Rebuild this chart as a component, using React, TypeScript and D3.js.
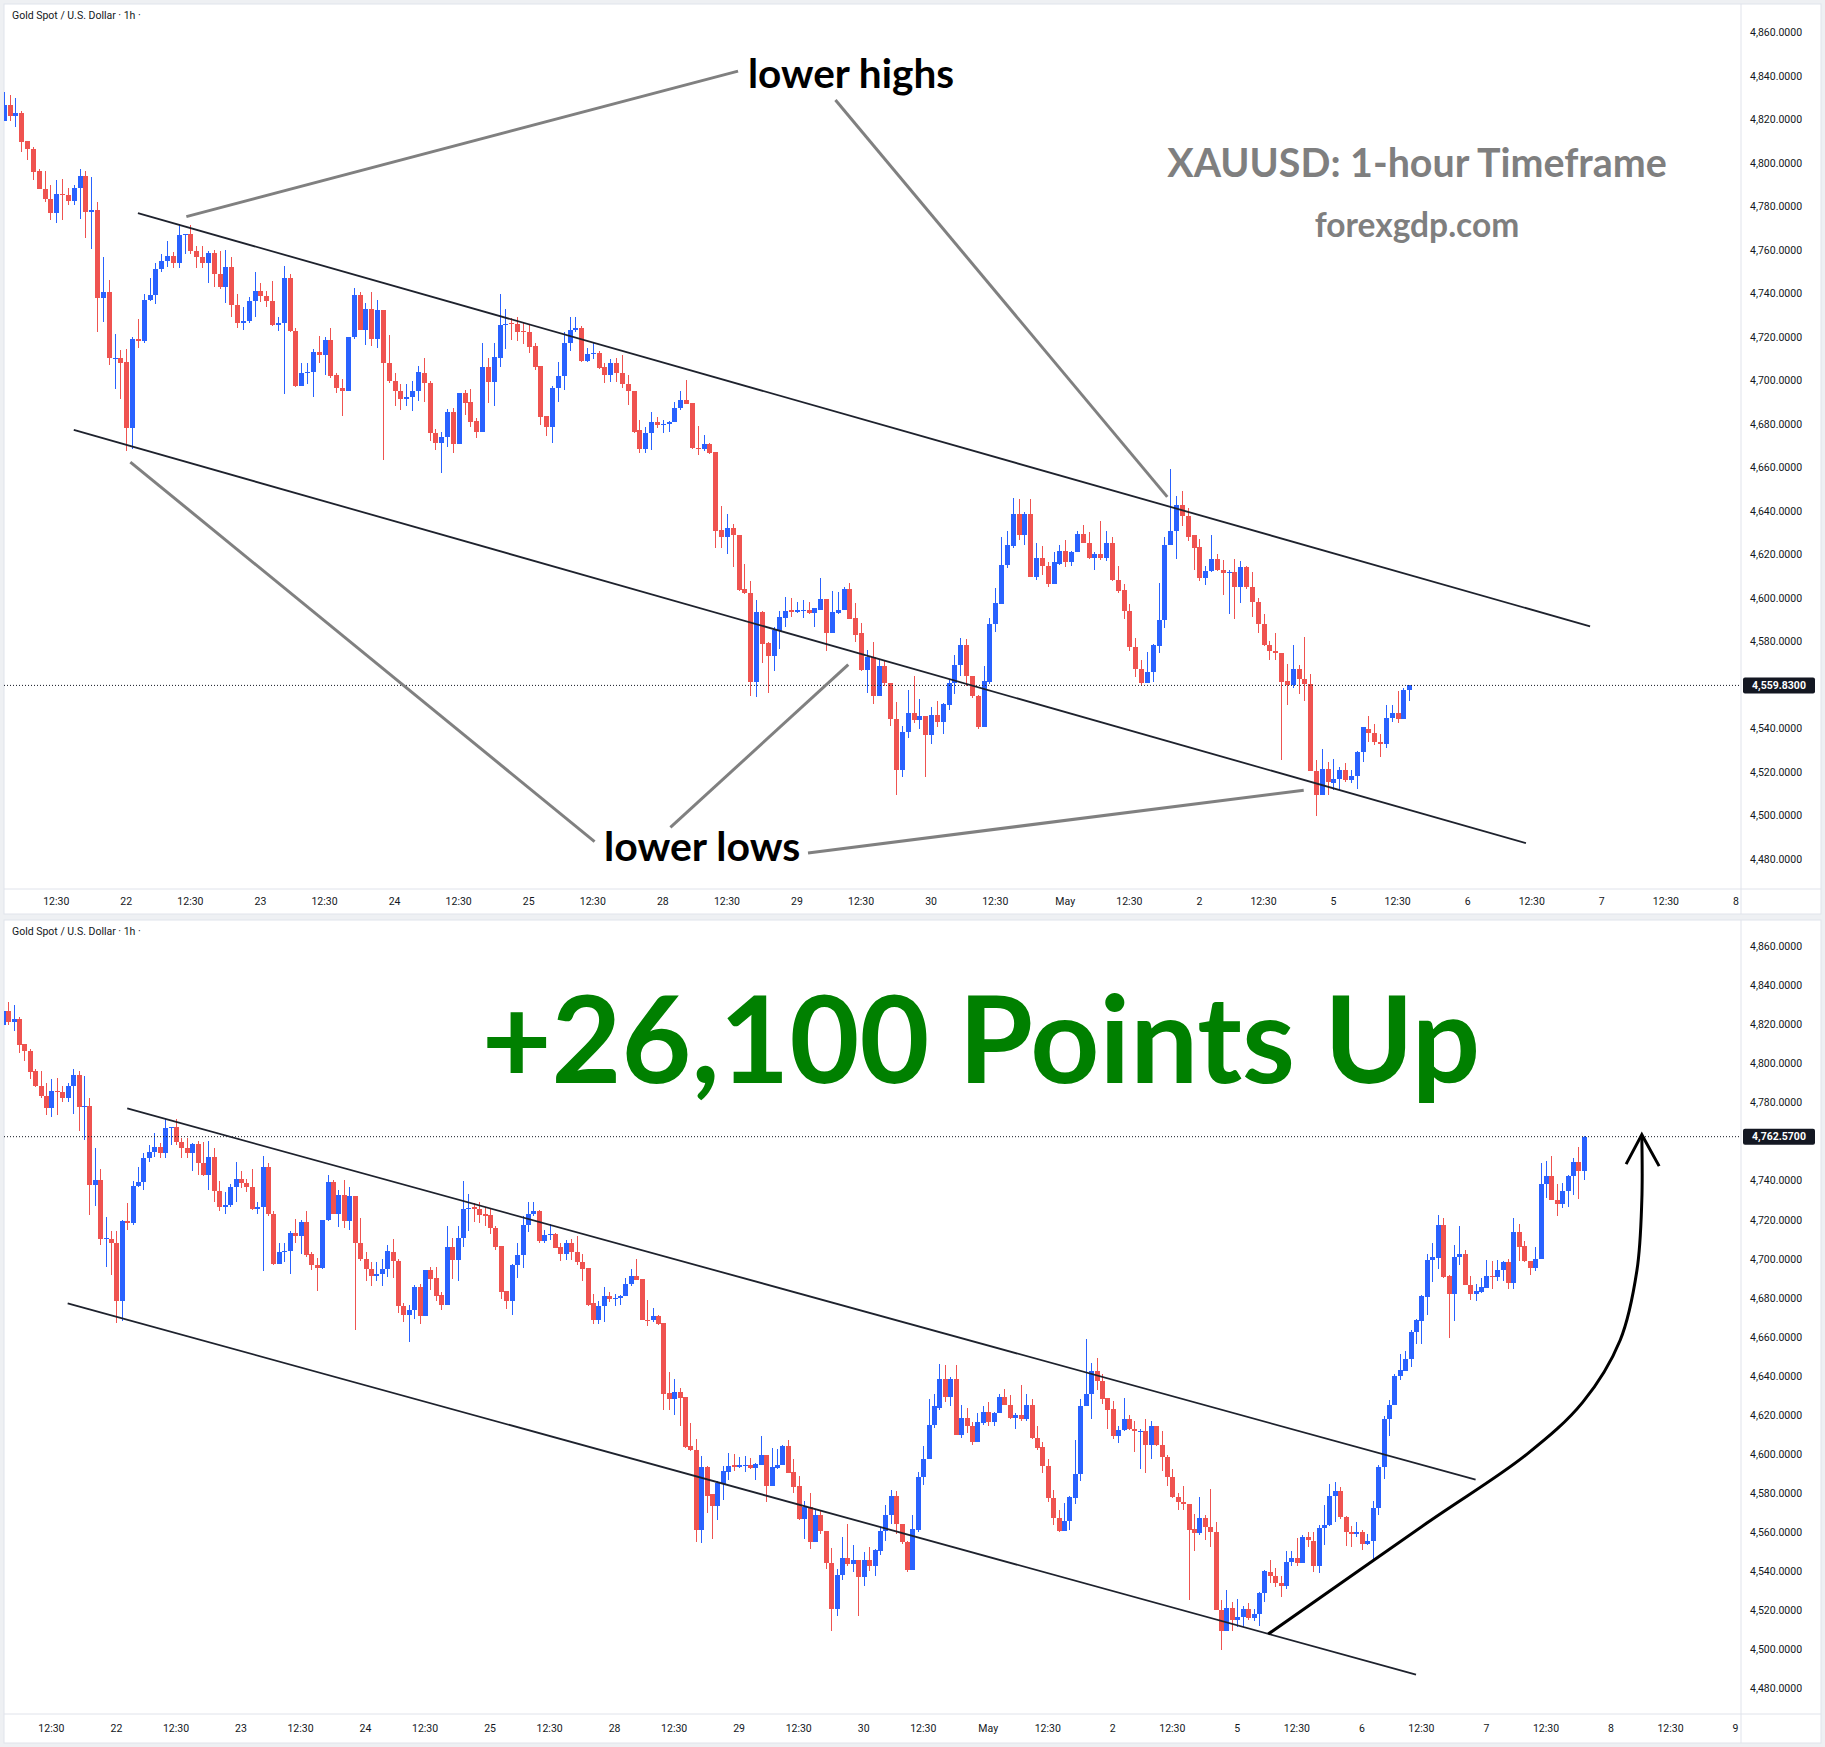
import * as d3 from 'd3';
import React from 'react';

// one candle per hour: [open, high, low, close]
type Bar = [number, number, number, number];

const apr21: Bar[] = [
  [4819.5, 4832.8, 4819.5, 4826.9], [4826.9, 4831.3, 4819.5, 4821.5], [4821.5, 4830.0, 4816.5, 4823.0],
  [4823.0, 4823.9, 4805.2, 4809.6], [4810.0, 4810.0, 4801.3, 4806.3], [4806.3, 4807.4, 4792.0, 4795.9],
  [4796.3, 4797.4, 4787.9, 4788.3], [4788.3, 4796.3, 4782.2, 4783.3], [4783.3, 4790.0, 4773.8, 4777.0],
  [4777.0, 4792.2, 4772.4, 4785.7], [4785.7, 4792.6, 4773.8, 4785.3], [4785.3, 4788.7, 4780.5, 4782.6],
  [4782.6, 4790.0, 4780.5, 4788.7], [4788.7, 4797.4, 4774.2, 4794.1], [4794.1, 4796.3, 4765.5, 4777.7],
  [4777.7, 4793.7, 4760.7, 4778.3], [4778.5, 4782.2, 4722.5, 4738.0], [4738.0, 4756.8, 4727.1, 4740.5],
  [4740.5, 4746.2, 4707.3, 4710.2], [4710.2, 4721.4, 4696.1, 4710.6], [4710.2, 4714.1, 4691.7, 4708.0],
];
const apr22: Bar[] = [
  [4708.4, 4714.5, 4667.4, 4678.3], [4678.3, 4719.9, 4668.3, 4719.3], [4719.3, 4728.4, 4715.0, 4718.4],
  [4718.4, 4739.9, 4717.5, 4737.1], [4737.1, 4747.1, 4736.6, 4739.2], [4739.2, 4754.0, 4735.3, 4751.4],
  [4751.4, 4758.3, 4749.7, 4754.9], [4754.9, 4764.4, 4752.3, 4757.3], [4757.3, 4759.2, 4751.8, 4754.0],
  [4754.0, 4771.8, 4751.8, 4767.0], [4767.0, 4767.5, 4758.3, 4767.5], [4767.5, 4771.4, 4758.3, 4759.6],
  [4759.6, 4761.8, 4751.8, 4756.6], [4756.6, 4761.8, 4751.8, 4754.0], [4754.0, 4759.4, 4744.9, 4758.6],
  [4758.6, 4760.1, 4743.2, 4749.2], [4749.2, 4759.6, 4742.3, 4743.2], [4743.2, 4760.1, 4735.5, 4752.3],
  [4752.3, 4756.6, 4729.1, 4734.9], [4734.9, 4739.7, 4724.3, 4726.4], [4726.4, 4734.0, 4723.2, 4727.5],
  [4727.5, 4738.4, 4726.4, 4736.6], [4736.6, 4749.7, 4729.3, 4741.0],
];
const apr23: Bar[] = [
  [4741.0, 4744.9, 4736.2, 4738.8], [4739.0, 4741.0, 4734.0, 4736.6], [4736.6, 4745.8, 4724.9, 4725.4],
  [4725.4, 4729.3, 4722.8, 4726.6], [4726.6, 4752.7, 4693.7, 4747.1], [4747.1, 4749.2, 4722.1, 4722.8],
  [4722.8, 4724.3, 4697.0, 4697.6], [4697.6, 4708.0, 4697.6, 4703.7], [4703.7, 4708.0, 4698.2, 4704.1],
  [4704.1, 4714.5, 4692.4, 4713.2], [4713.2, 4720.4, 4708.0, 4711.9], [4711.9, 4719.9, 4702.6, 4718.8],
  [4718.8, 4724.3, 4701.0, 4702.1], [4702.6, 4703.7, 4694.5, 4696.7], [4696.7, 4700.6, 4683.7, 4695.4],
  [4695.4, 4719.9, 4695.0, 4719.9], [4719.9, 4742.7, 4719.3, 4739.2], [4739.2, 4740.5, 4723.2, 4723.2],
  [4723.2, 4735.5, 4716.2, 4732.7], [4732.7, 4740.5, 4716.0, 4719.3], [4719.3, 4736.9, 4715.0, 4732.3],
  [4732.3, 4732.3, 4663.5, 4708.0], [4708.0, 4721.0, 4698.7, 4699.8],
];
const apr24: Bar[] = [
  [4699.8, 4703.7, 4688.5, 4695.0], [4695.0, 4698.2, 4686.3, 4691.5], [4691.5, 4698.2, 4688.5, 4692.4],
  [4692.4, 4699.8, 4685.9, 4695.0], [4695.0, 4706.9, 4690.6, 4704.1], [4703.7, 4710.2, 4690.0, 4698.9],
  [4698.9, 4699.8, 4672.2, 4675.9], [4675.9, 4677.6, 4667.9, 4671.1], [4671.1, 4676.5, 4657.4, 4673.9],
  [4673.9, 4686.9, 4669.4, 4685.6], [4685.6, 4687.4, 4666.8, 4670.7], [4670.7, 4694.5, 4670.7, 4694.1],
  [4694.1, 4695.8, 4684.1, 4689.8], [4690.2, 4696.1, 4678.7, 4681.1], [4681.5, 4683.0, 4673.7, 4676.5],
  [4676.5, 4717.1, 4676.5, 4706.3], [4706.3, 4710.6, 4689.6, 4699.3], [4699.3, 4717.1, 4688.5, 4710.8],
  [4710.6, 4739.9, 4706.3, 4725.6], [4725.6, 4733.0, 4714.5, 4726.2], [4726.6, 4728.6, 4718.8, 4725.8],
  [4725.8, 4729.3, 4718.2, 4722.5], [4722.9, 4726.4, 4716.7, 4722.1],
];
const apr25: Bar[] = [
  [4722.5, 4725.4, 4712.8, 4715.6], [4716.0, 4717.1, 4704.7, 4706.3], [4706.7, 4706.7, 4679.4, 4683.3],
  [4683.7, 4683.7, 4674.4, 4678.7], [4678.7, 4697.6, 4671.5, 4696.7], [4696.7, 4708.4, 4690.2, 4701.9],
  [4701.9, 4722.1, 4695.6, 4717.3], [4717.3, 4729.1, 4713.8, 4723.2], [4723.2, 4729.3, 4722.1, 4724.3],
  [4724.3, 4724.9, 4708.4, 4709.1], [4709.1, 4714.9, 4708.4, 4712.3], [4712.3, 4717.8, 4709.7, 4712.9],
  [4712.9, 4713.4, 4705.4, 4705.8], [4706.3, 4708.0, 4698.9, 4702.6], [4702.6, 4709.7, 4699.3, 4708.0],
  [4708.0, 4710.2, 4699.3, 4703.7], [4703.7, 4711.7, 4696.7, 4698.2], [4698.2, 4702.6, 4688.9, 4695.0],
  [4695.4, 4695.4, 4675.9, 4676.5], [4677.2, 4682.0, 4666.8, 4668.5], [4668.5, 4678.7, 4666.8, 4675.9],
  [4675.9, 4685.6, 4667.9, 4681.1], [4681.1, 4683.1, 4678.0, 4679.4],
];
const apr28: Bar[] = [
  [4679.4, 4681.9, 4675.9, 4679.8], [4679.8, 4681.5, 4676.5, 4681.1], [4681.1, 4690.2, 4681.1, 4687.4],
  [4687.4, 4695.0, 4686.3, 4691.1], [4691.1, 4700.2, 4689.4, 4689.4], [4689.8, 4689.8, 4668.5, 4669.0],
  [4669.0, 4679.1, 4665.7, 4668.5], [4668.5, 4675.0, 4667.6, 4670.7], [4670.7, 4671.1, 4666.1, 4666.8],
  [4667.2, 4667.2, 4622.9, 4631.0], [4631.4, 4642.2, 4622.9, 4628.1], [4628.1, 4638.6, 4620.1, 4632.0],
  [4632.0, 4634.2, 4614.3, 4628.8], [4629.2, 4629.2, 4603.4, 4603.8], [4604.3, 4615.8, 4601.7, 4602.1],
  [4602.1, 4607.7, 4555.0, 4561.5], [4561.5, 4599.1, 4554.4, 4593.4], [4593.4, 4594.1, 4570.2, 4578.9],
  [4579.5, 4579.9, 4556.5, 4573.5], [4573.5, 4586.5, 4566.5, 4585.4], [4584.8, 4594.1, 4576.7, 4591.3],
  [4590.8, 4600.6, 4586.9, 4594.1], [4594.3, 4600.0, 4591.3, 4593.4],
];
const apr29: Bar[] = [
  [4593.4, 4598.4, 4593.0, 4594.3], [4594.3, 4599.1, 4590.8, 4594.7], [4594.7, 4598.2, 4592.6, 4593.0],
  [4593.0, 4595.6, 4586.9, 4595.2], [4594.7, 4609.3, 4594.7, 4599.5], [4599.5, 4599.5, 4575.6, 4583.9],
  [4583.9, 4603.2, 4583.9, 4593.4], [4593.0, 4602.8, 4592.6, 4594.7], [4594.7, 4604.9, 4594.7, 4604.3],
  [4604.3, 4607.1, 4590.4, 4590.4], [4590.8, 4597.8, 4580.0, 4583.2], [4583.9, 4588.7, 4566.5, 4566.9],
  [4566.9, 4576.1, 4556.5, 4573.0], [4573.0, 4580.0, 4551.3, 4555.0], [4555.0, 4571.3, 4555.0, 4568.7],
  [4568.7, 4571.3, 4559.4, 4560.9], [4560.9, 4560.9, 4541.3, 4544.2], [4544.2, 4552.2, 4509.4, 4520.9],
  [4520.9, 4541.3, 4517.5, 4538.3], [4538.3, 4557.8, 4535.5, 4547.0], [4547.0, 4564.3, 4542.6, 4543.9],
  [4543.9, 4553.5, 4539.8, 4545.7], [4545.7, 4545.7, 4517.5, 4537.0],
];
const apr30: Bar[] = [
  [4537.0, 4550.0, 4532.7, 4546.1], [4546.1, 4552.6, 4540.5, 4543.1], [4543.1, 4551.8, 4537.7, 4551.1],
  [4550.7, 4562.2, 4548.5, 4560.9], [4560.9, 4573.9, 4555.7, 4569.1], [4569.1, 4581.7, 4564.3, 4578.5],
  [4578.5, 4581.1, 4559.4, 4564.3], [4564.3, 4564.3, 4553.9, 4555.0], [4555.0, 4555.4, 4539.8, 4540.9],
  [4540.9, 4568.7, 4540.9, 4561.9], [4561.5, 4590.8, 4560.4, 4588.2], [4588.2, 4604.5, 4584.3, 4597.8],
  [4597.4, 4628.1, 4597.4, 4615.1], [4615.1, 4630.9, 4613.6, 4624.5], [4623.8, 4646.2, 4622.9, 4638.6],
  [4638.6, 4645.5, 4626.6, 4629.2], [4629.2, 4639.6, 4624.5, 4638.6], [4638.6, 4645.5, 4609.9, 4609.9],
  [4609.9, 4625.1, 4608.2, 4618.6], [4618.6, 4623.8, 4610.8, 4614.7], [4614.7, 4616.4, 4604.9, 4606.4],
  [4606.4, 4621.2, 4606.4, 4616.4], [4615.8, 4624.5, 4615.1, 4621.6],
];
const may1: Bar[] = [
  [4621.6, 4626.6, 4614.3, 4616.4], [4616.4, 4621.6, 4614.7, 4621.2], [4621.2, 4630.9, 4621.2, 4629.4],
  [4629.4, 4633.6, 4625.5, 4625.5], [4625.5, 4630.3, 4618.0, 4618.6], [4618.6, 4621.2, 4612.9, 4620.3],
  [4620.3, 4635.3, 4617.3, 4618.2], [4618.2, 4630.9, 4616.9, 4625.5], [4625.5, 4628.1, 4607.7, 4608.2],
  [4608.2, 4614.7, 4602.1, 4603.4], [4603.8, 4606.4, 4590.4, 4594.1], [4594.1, 4597.4, 4575.6, 4577.4],
  [4577.4, 4581.7, 4563.7, 4567.4], [4567.4, 4571.7, 4560.0, 4560.9], [4560.9, 4575.2, 4560.9, 4565.9],
  [4565.9, 4578.9, 4561.5, 4578.2], [4577.8, 4607.1, 4574.6, 4589.7], [4589.7, 4628.1, 4586.1, 4624.5],
  [4624.5, 4659.2, 4624.5, 4630.9], [4630.9, 4646.8, 4618.0, 4642.9], [4642.9, 4649.4, 4633.1, 4637.5],
  [4637.5, 4641.2, 4626.0, 4628.1], [4628.8, 4628.8, 4612.9, 4622.9],
];
const may2: Bar[] = [
  [4623.4, 4627.3, 4607.7, 4609.3], [4609.3, 4614.7, 4606.0, 4612.5], [4612.5, 4628.8, 4612.1, 4617.9],
  [4617.9, 4620.1, 4612.5, 4612.9], [4612.9, 4617.3, 4601.2, 4611.7], [4611.7, 4612.9, 4592.6, 4612.1],
  [4612.1, 4617.9, 4590.4, 4604.9], [4604.9, 4616.9, 4597.8, 4614.3], [4614.3, 4614.7, 4604.3, 4604.9],
  [4604.9, 4612.1, 4591.5, 4598.4], [4598.4, 4599.9, 4583.9, 4588.2], [4588.2, 4592.6, 4577.8, 4578.2],
  [4578.2, 4580.4, 4571.7, 4575.6], [4575.6, 4583.9, 4571.7, 4574.5], [4574.5, 4574.5, 4525.3, 4561.5],
  [4561.9, 4569.6, 4550.7, 4559.8], [4559.8, 4578.2, 4558.7, 4567.4], [4567.4, 4569.1, 4556.1, 4562.6],
  [4562.6, 4582.1, 4552.8, 4560.4], [4560.4, 4565.2, 4520.3, 4520.3], [4520.3, 4525.7, 4499.7, 4509.4],
  [4509.4, 4530.5, 4509.4, 4521.4], [4521.4, 4524.6, 4509.4, 4515.3],
];
const may5: Bar[] = [
  [4515.1, 4526.2, 4511.6, 4516.6], [4516.6, 4522.5, 4511.6, 4521.0], [4521.0, 4524.0, 4515.3, 4516.2],
  [4516.2, 4521.0, 4514.9, 4518.1], [4518.1, 4529.6, 4512.3, 4529.0], [4529.0, 4540.9, 4524.6, 4540.5],
  [4539.8, 4545.7, 4534.0, 4537.9], [4537.9, 4542.0, 4532.2, 4534.0], [4534.0, 4537.6, 4526.8, 4532.7],
  [4532.7, 4550.7, 4531.1, 4544.8], [4544.8, 4550.7, 4543.1, 4547.0], [4547.0, 4557.2, 4542.6, 4544.2],
  [4544.2, 4558.7, 4544.2, 4557.8], [4557.8, 4560.4, 4552.8, 4556.2], [4555.4, 4560.4, 4539.7, 4543.0],
  [4543.0, 4564.0, 4539.3, 4562.2], [4562.2, 4574.1, 4553.6, 4563.7], [4563.7, 4585.0, 4563.1, 4578.6],
  [4578.6, 4586.0, 4565.3, 4581.4], [4581.4, 4583.2, 4567.1, 4567.7], [4567.7, 4568.2, 4553.1, 4560.4],
  [4560.4, 4563.1, 4552.5, 4559.4], [4559.4, 4565.3, 4557.6, 4560.4],
];
const may6: Bar[] = [
  [4560.4, 4561.3, 4551.2, 4554.0], [4554.0, 4559.4, 4553.6, 4555.8], [4555.8, 4576.3, 4544.8, 4572.6],
  [4572.6, 4594.6, 4569.0, 4593.3], [4593.3, 4619.4, 4587.2, 4617.9], [4617.9, 4628.0, 4609.2, 4625.3],
  [4625.3, 4641.3, 4625.3, 4640.3], [4640.3, 4651.2, 4638.1, 4643.0], [4642.6, 4652.7, 4642.6, 4648.7],
  [4648.7, 4663.6, 4644.5, 4662.7], [4662.7, 4669.1, 4656.7, 4668.6], [4668.2, 4681.6, 4656.7, 4681.0],
  [4680.6, 4702.4, 4671.3, 4699.3], [4699.3, 4707.9, 4688.3, 4701.1], [4700.6, 4722.5, 4694.7, 4717.2],
  [4717.2, 4720.7, 4690.2, 4690.7], [4691.1, 4692.0, 4659.6, 4681.9], [4681.9, 4707.2, 4668.2, 4701.1],
  [4701.1, 4716.7, 4696.9, 4702.4], [4702.4, 4704.8, 4686.5, 4686.5], [4686.9, 4691.4, 4678.8, 4681.9],
  [4681.9, 4687.4, 4678.3, 4683.4], [4683.2, 4690.2, 4682.8, 4685.6],
];
const may7: Bar[] = [
  [4685.2, 4699.3, 4685.2, 4691.4], [4691.4, 4698.7, 4684.7, 4690.5], [4690.5, 4699.3, 4688.9, 4694.4],
  [4694.2, 4698.7, 4688.9, 4698.4], [4698.4, 4700.2, 4684.7, 4687.8], [4687.8, 4720.7, 4684.7, 4713.9],
  [4713.9, 4718.1, 4698.7, 4706.1], [4706.6, 4709.0, 4698.4, 4698.7], [4698.7, 4698.7, 4691.6, 4695.6],
  [4695.6, 4706.1, 4693.8, 4700.2], [4700.2, 4749.2, 4700.2, 4738.6], [4738.6, 4749.9, 4731.3, 4742.3],
  [4742.3, 4752.7, 4730.4, 4730.4], [4730.4, 4738.6, 4721.8, 4728.2], [4728.2, 4739.0, 4726.2, 4734.9],
  [4734.6, 4743.2, 4726.7, 4742.3], [4742.3, 4751.4, 4732.7, 4749.6], [4749.6, 4757.2, 4730.9, 4745.0],
  [4745.0, 4762.9, 4740.4, 4762.57],
];

// the top screenshot was taken while this candle was still forming
const topLiveBar: Bar = [4557.8, 4560.0, 4552.8, 4559.83];

const dayLabels = ['22', '23', '24', '25', '28', '29', '30', 'May', '2', '5', '6', '7', '8', '9'];
const priceTicks = d3.range(4480, 4861, 20);

// trend lines as [bar index, price]
const upperChannel: [number, number][] = [[23, 4777], [272, 4587]];
const lowerChannel: [number, number][] = [[12, 4677.3], [261, 4487.3]];
const highsPointers: [number, number][][] = [
  [[31.3, 4775.4], [125.9, 4842.3]],
  [[142.6, 4829.0], [199.5, 4646.5]],
];
const lowsPointers: [number, number][][] = [
  [[21.7, 4662.5], [101.3, 4488.0]],
  [[114.3, 4494.5], [144.8, 4569.4]],
  [[137.9, 4482.8], [222.9, 4511.6]],
];
const arrowPath: [number, number][] = [
  [233.7, 4508.0], [263.0, 4564.8], [281.5, 4600.1], [291.8, 4626.7],
  [298.7, 4658.4], [301.8, 4694.2], [302.7, 4730.0], [302.7, 4762.3],
];
const arrowHead: [number, number][] = [[299.8, 4748.5], [302.7, 4763.6], [305.9, 4747.5]];

const UP = '#2962ff';
const DOWN = '#ef5350';
const INK = '#131722';
const BORDER = '#e0e3eb';
const FONT = 'Roboto, "Noto Sans", sans-serif';
const ANNO = 'Lato, "Open Sans", sans-serif';
const fmt = d3.format(',.4f');

const allBars: Bar[] = [apr21, apr22, apr23, apr24, apr25, apr28, apr29, apr30, may1, may2, may5, may6, may7].flat();
const topBars: Bar[] = [...allBars.slice(0, 241), topLiveBar];

interface PanelProps {
  id: string;
  top: number;
  axisTop: number;
  bottom: number;
  x: d3.ScaleLinear<number, number>;
  y: d3.ScaleLinear<number, number>;
  bars: Bar[];
  maxIdx: number;
  children?: React.ReactNode;
}

const LEFT = 4;
const AXIS_X = 1741;
const RIGHT = 1821;

const Panel = ({ id, top, axisTop, bottom, x, y, bars, maxIdx, children }: PanelProps) => {
  const step = x(1) - x(0);
  const bw = Math.max(1, step * 0.74);
  const last = bars[bars.length - 1][3];
  const yLast = y(last);

  const ticks: { i: number; label: string }[] = [];
  for (let k = 0; 9 + 23 * k <= maxIdx; k++) {
    ticks.push({ i: 9 + 23 * k, label: '12:30' });
    if (21 + 23 * k <= maxIdx && k < dayLabels.length) ticks.push({ i: 21 + 23 * k, label: dayLabels[k] });
  }
  // the price tag hides the tick label it covers
  const shownTicks = priceTicks.filter((p) => Math.abs(y(p) - yLast) > 14);

  return (
    <g>
      <defs>
        <clipPath id={id}>
          <rect x={LEFT} y={top} width={AXIS_X - LEFT} height={axisTop - top} />
        </clipPath>
      </defs>
      <rect x={LEFT} y={top} width={RIGHT - LEFT} height={bottom - top} fill="#fff" stroke={BORDER} />
      <line x1={AXIS_X} x2={AXIS_X} y1={top} y2={bottom} stroke={BORDER} />
      <line x1={LEFT} x2={RIGHT} y1={axisTop} y2={axisTop} stroke={BORDER} />

      <text x={12} y={top + 15} fontFamily={FONT} fontSize={10.5} fill={INK}>
        Gold Spot / U.S. Dollar · 1h ·
      </text>

      <g clipPath={`url(#${id})`}>
        {bars.map((b, i) => {
          const [o, h, l, c] = b;
          const col = c >= o ? UP : DOWN;
          const cx = Math.round(x(i)) + 0.5;
          const yT = y(Math.max(o, c));
          const yB = y(Math.min(o, c));
          return (
            <g key={i} shapeRendering="crispEdges">
              <line x1={cx} x2={cx} y1={y(h)} y2={y(l)} stroke={col} strokeWidth={1} />
              <rect x={cx - bw / 2} y={yT} width={bw} height={Math.max(1, yB - yT)} fill={col} />
            </g>
          );
        })}
        <line x1={LEFT} x2={AXIS_X} y1={yLast} y2={yLast} stroke={INK} strokeWidth={1} strokeDasharray="1 2" />
        {[upperChannel, lowerChannel].map((ln, k) => (
          <line key={k} x1={x(ln[0][0])} y1={y(ln[0][1])} x2={x(ln[1][0])} y2={y(ln[1][1])} stroke="#1e222d" strokeWidth={1.8} />
        ))}
        {children}
      </g>

      {shownTicks.map((p) => (
        <text key={p} x={1750} y={y(p)} dy="0.35em" fontFamily={FONT} fontSize={10.5} fill={INK}>
          {fmt(p)}
        </text>
      ))}
      <rect x={1743} y={yLast - 8} width={72} height={16} rx={2} fill={INK} />
      <text x={1779} y={yLast} dy="0.35em" textAnchor="middle" fontFamily={FONT} fontSize={10.5} fontWeight={700} fill="#fff">
        {fmt(last)}
      </text>

      {ticks.map((t) => (
        <text key={t.i} x={x(t.i)} y={(axisTop + bottom) / 2} dy="0.35em" textAnchor="middle" fontFamily={FONT} fontSize={10.5} fill={INK}>
          {t.label}
        </text>
      ))}
    </g>
  );
};

const App = () => {
  const xTop = d3.scaleLinear().domain([0, 297]).range([3.8, 3.8 + 297 * 5.832]);
  const yTop = d3.scaleLinear().domain([4480, 4860]).range([859, 32.6]);
  const xBot = d3.scaleLinear().domain([0, 320]).range([2.7, 2.7 + 320 * 5.415]);
  const yBot = d3.scaleLinear().domain([4480, 4860]).range([1688.8, 946.3]);

  const seg = (x: d3.ScaleLinear<number, number>, y: d3.ScaleLinear<number, number>, s: [number, number][], k: number) => (
    <line key={k} x1={x(s[0][0])} y1={y(s[0][1])} x2={x(s[1][0])} y2={y(s[1][1])} stroke="#808080" strokeWidth={3} />
  );

  const curve = d3.line<[number, number]>()
    .x((d) => xBot(d[0]))
    .y((d) => yBot(d[1]))
    .curve(d3.curveCatmullRom);
  const head = d3.line<[number, number]>().x((d) => xBot(d[0])).y((d) => yBot(d[1]));

  return (
    <>
      <style>{'body{margin:0;background:#eef0f3}'}</style>
      <svg width={1825} height={1747} style={{ display: 'block', background: '#eef0f3' }}>
        <Panel id="clipTop" top={4} axisTop={889} bottom={914} x={xTop} y={yTop} bars={topBars} maxIdx={297}>
          {highsPointers.map((s, k) => seg(xTop, yTop, s, k))}
          {lowsPointers.map((s, k) => seg(xTop, yTop, s, k + 10))}
          <text x={748} y={88} fontFamily={ANNO} fontWeight={700} fontSize={40.5} fill="#000">lower highs</text>
          <text x={604} y={861} fontFamily={ANNO} fontWeight={700} fontSize={41} fill="#000">lower lows</text>
          <text x={1417} y={177} textAnchor="middle" fontFamily={ANNO} fontWeight={700} fontSize={39.4} fill="#7f7f7f">
            XAUUSD: 1-hour Timeframe
          </text>
          <text x={1417} y={237} textAnchor="middle" fontFamily={ANNO} fontWeight={700} fontSize={33.5} fill="#7f7f7f">
            forexgdp.com
          </text>
        </Panel>
        <Panel id="clipBot" top={920} axisTop={1714} bottom={1743} x={xBot} y={yBot} bars={allBars} maxIdx={320}>
          <path d={curve(arrowPath) ?? ''} fill="none" stroke="#000" strokeWidth={3} />
          <path d={head(arrowHead) ?? ''} fill="none" stroke="#000" strokeWidth={3} strokeLinejoin="miter" />
          <text x={981} y={1083} textAnchor="middle" fontFamily={ANNO} fontWeight={700} fontSize={120.5} fill="#008000">
            +26,100 Points Up
          </text>
        </Panel>
      </svg>
    </>
  );
};

export default App;
